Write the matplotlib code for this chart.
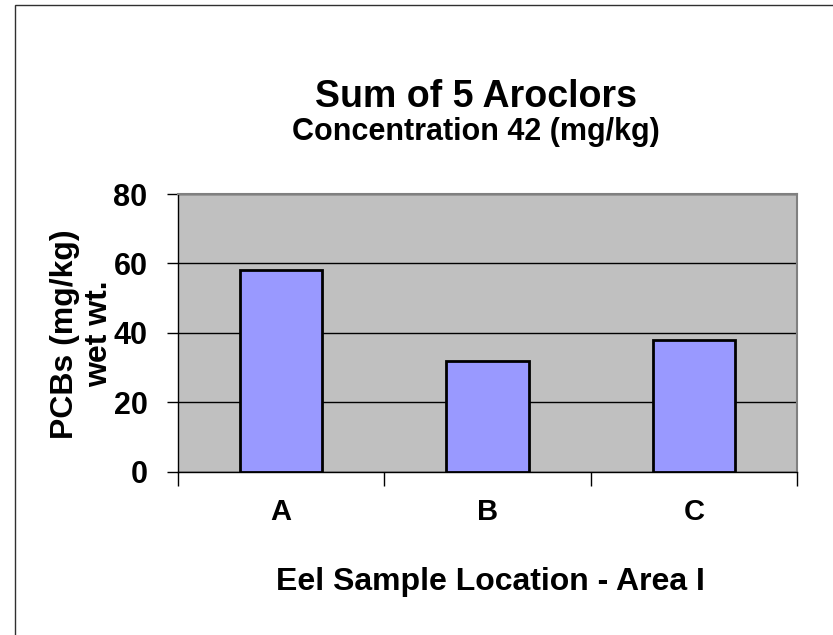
import matplotlib
matplotlib.use("Agg")
import matplotlib.pyplot as plt
from matplotlib.patches import Rectangle

plt.rcParams['font.family'] = ['Liberation Sans', 'DejaVu Sans']
plt.rcParams['font.weight'] = 'bold'

# data
locations = ['A', 'B', 'C']
pcbs = [58, 32, 38]
y_ticks = [0, 20, 40, 60, 80]

fig = plt.figure(figsize=(8.33, 6.35), dpi=100)

# outer chart border (only top and left visible in the picture)
fig.patches.append(Rectangle((15 / 833, -0.1), 1.2, 0.1 + (635 - 5) / 635,
                             transform=fig.transFigure, fill=False,
                             edgecolor='#303030', linewidth=1.0))

ax = fig.add_axes([178 / 833, 163.3 / 635, 619 / 833, 277.7 / 635])
ax.set_facecolor('#C0C0C0')

x = range(len(locations))
ax.bar(x, pcbs, width=0.4, color='#9999FF', edgecolor='black',
       linewidth=2, zorder=3)

ax.set_xlim(-0.5, 2.5)
ax.set_ylim(0, 80)
ax.set_yticks(y_ticks)
ax.set_yticklabels([str(v) for v in y_ticks], fontsize=22, fontweight='bold')
ax.yaxis.grid(True, color='black', linewidth=1, zorder=1)
ax.set_axisbelow(True)

ax.set_xticks(list(x))
ax.set_xticklabels(locations, fontsize=21, fontweight='bold')
ax.set_xticks([-0.5, 0.5, 1.5, 2.5], minor=True)
ax.tick_params(axis='x', which='major', length=0, pad=19)
ax.tick_params(axis='x', which='minor', length=10, width=1, direction='out', color='black')
ax.tick_params(axis='y', length=8, width=1, direction='out', pad=14)

for side in ['top', 'right']:
    ax.spines[side].set_color('#808080')
    ax.spines[side].set_linewidth(1.5)
for side in ['left', 'bottom']:
    ax.spines[side].set_color('black')
    ax.spines[side].set_linewidth(1)

fig.text(476 / 833, 1 - 107 / 635, 'Sum of 5 Aroclors', ha='center', va='baseline',
         fontsize=27, fontweight='bold')
fig.text(476 / 833, 1 - 140 / 635, 'Concentration 42 (mg/kg)', ha='center',
         va='baseline', fontsize=22, fontweight='bold')
fig.text(65 / 833, 1 - 334 / 635, 'PCBs (mg/kg)', ha='center',
         va='center', rotation=90, fontsize=23, fontweight='bold')
fig.text(99 / 833, 1 - 334 / 635, 'wet wt.', ha='center',
         va='center', rotation=90, fontsize=23, fontweight='bold')
fig.text(490 / 833, 1 - 590 / 635, 'Eel Sample Location - Area I', ha='center',
         va='baseline', fontsize=23, fontweight='bold')

fig.savefig('out.png', dpi=100)
